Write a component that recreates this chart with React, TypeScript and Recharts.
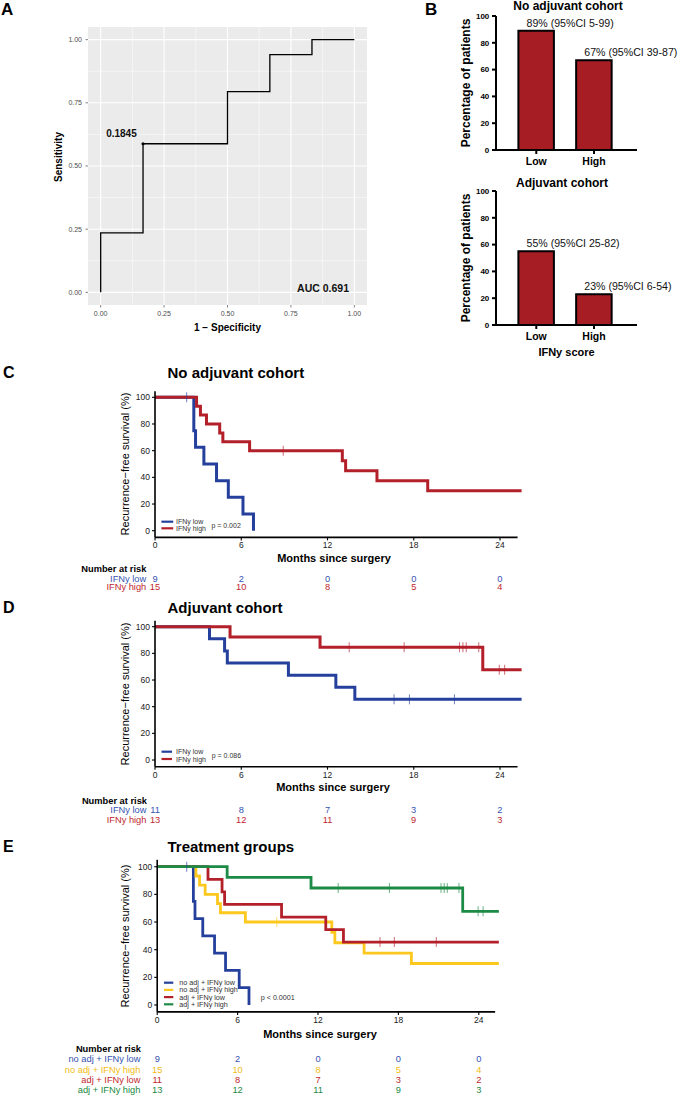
import React from 'react';
import { LineChart, Line, XAxis, YAxis, CartesianGrid, ReferenceLine, BarChart, Bar, LabelList } from 'recharts';

const FONT = '"Liberation Sans", Arial, Helvetica, sans-serif';

// ---------- Panel A: ROC ----------
const rocFpr = [0, 0, 0.167, 0.5, 0.667, 0.833, 1];
const rocTpr = [0, 0.235, 0.588, 0.794, 0.941, 1, 1];
const rocTicks = [0, 0.25, 0.5, 0.75, 1];
const rocMinorTicks = [0.125, 0.375, 0.625, 0.875];
const rocCutoffIndex = 2;
const rocCutoffLabel = '0.1845';
const rocAucLabel = 'AUC 0.691';

// ---------- Panel B: bars ----------
const scoreGroups = ['Low', 'High'];
const noAdjRecurrencePct = [89, 67];
const noAdjCiLabels = ['89% (95%CI 5-99)', '67% (95%CI 39-87)'];
const adjRecurrencePct = [55, 23];
const adjCiLabels = ['55% (95%CI 25-82)', '23% (95%CI 6-54)'];
const pctTicks = [0, 20, 40, 60, 80, 100];

// ---------- KM curves ----------
const monthTicks = [0, 6, 12, 18, 24];
const survTicks = [0, 20, 40, 60, 80, 100];
const riskTimes = [0, 6, 12, 18, 24];
const MONTH_MAX = 25.5;
const AXIS_END = 25.22;

const noAdjLowTimes = [0, 2.7, 2.82, 3.4, 4.28, 5.1, 6.12, 6.85];
const noAdjLowSurv = [100, 75, 62.5, 50, 37.5, 25, 12.5, 0];
const noAdjLowCensorTimes = [2.2];
const noAdjLowCensorSurv = [100];
const noAdjLowRisk = [9, 2, 0, 0, 0];

const noAdjHighTimes = [0, 2.89, 3.16, 3.58, 4.5, 4.72, 6.58, 13.03, 13.26, 15.44, 18.97, 25.5];
const noAdjHighSurv = [100, 93.3, 86.7, 80, 73.3, 66.7, 60, 52.5, 45, 37.5, 30, 30];
const noAdjHighCensorTimes = [8.92];
const noAdjHighCensorSurv = [60];
const noAdjHighRisk = [15, 10, 8, 5, 4];

const adjLowTimes = [0, 3.79, 4.84, 5.03, 9.28, 12.58, 13.9, 25.5];
const adjLowSurv = [100, 90.9, 81.8, 72.7, 63.6, 54.5, 45.5, 45.5];
const adjLowCensorTimes = [16.63, 17.7, 20.83];
const adjLowCensorSurv = [45.5, 45.5, 45.5];
const adjLowRisk = [11, 8, 7, 3, 2];

const adjHighTimes = [0, 5.22, 11.48, 22.8, 25.5];
const adjHighSurv = [100, 92.3, 84.6, 67.7, 67.7];
const adjHighCensorTimes = [13.51, 17.33, 21.18, 21.42, 21.65, 22.52, 23.95, 24.32];
const adjHighCensorSurv = [84.6, 84.6, 84.6, 84.6, 84.6, 84.6, 67.7, 67.7];
const adjHighRisk = [13, 12, 11, 9, 3];

const BLUE = '#24409c';
const RED = '#b3202a';
const YELLOW = '#fcc81e';
const GREEN = '#1d8b45';
const BLUE_T = '#3553b0';
const RED_T = '#c0272d';
const YELLOW_T = '#f2bc16';
const GREEN_T = '#22883f';
const BAR_RED = '#a61e23';

type KMSeries = {
  name: string;
  times: number[];
  surv: number[];
  censorTimes: number[];
  censorSurv: number[];
  risk: number[];
  color: string;
  textColor: string;
};

const noAdjLow = { times: noAdjLowTimes, surv: noAdjLowSurv, censorTimes: noAdjLowCensorTimes, censorSurv: noAdjLowCensorSurv, risk: noAdjLowRisk };
const noAdjHigh = { times: noAdjHighTimes, surv: noAdjHighSurv, censorTimes: noAdjHighCensorTimes, censorSurv: noAdjHighCensorSurv, risk: noAdjHighRisk };
const adjLow = { times: adjLowTimes, surv: adjLowSurv, censorTimes: adjLowCensorTimes, censorSurv: adjLowCensorSurv, risk: adjLowRisk };
const adjHigh = { times: adjHighTimes, surv: adjHighSurv, censorTimes: adjHighCensorTimes, censorSurv: adjHighCensorSurv, risk: adjHighRisk };

const seriesC: KMSeries[] = [
  { name: 'IFNy low', ...noAdjLow, color: BLUE, textColor: BLUE_T },
  { name: 'IFNy high', ...noAdjHigh, color: RED, textColor: RED_T },
];
const seriesD: KMSeries[] = [
  { name: 'IFNy low', ...adjLow, color: BLUE, textColor: BLUE_T },
  { name: 'IFNy high', ...adjHigh, color: RED, textColor: RED_T },
];
const seriesE: KMSeries[] = [
  { name: 'no adj + IFNy low', ...noAdjLow, color: BLUE, textColor: BLUE_T },
  { name: 'no adj + IFNy high', ...noAdjHigh, color: YELLOW, textColor: YELLOW_T },
  { name: 'adj + IFNy low', ...adjLow, color: RED, textColor: RED_T },
  { name: 'adj + IFNy high', ...adjHigh, color: GREEN, textColor: GREEN_T },
];

const zip = (t: number[], s: number[]) => t.map((v, i) => ({ t: v, s: s[i] }));

function KMChart(props: {
  left: number; top: number; yAxisWidth: number; plotTop: number; plotHeight: number; plotWidth: number;
  yDomain: [number, number]; series: KMSeries[]; lineWidth: number;
}) {
  const { left, top, yAxisWidth, plotTop, plotHeight, plotWidth, yDomain, series, lineWidth } = props;
  const width = yAxisWidth + plotWidth + 10;
  const height = plotTop + plotHeight + 22;
  return (
    <div style={{ position: 'absolute', left, top }}>
      <LineChart width={width} height={height} margin={{ top: plotTop, right: 10, bottom: 0, left: 0 }}>
        <XAxis type="number" dataKey="t" domain={[0, MONTH_MAX]} ticks={monthTicks} interval={0} height={22}
          axisLine={false} tickLine={{ stroke: '#000', strokeWidth: 1.1 }} tickSize={3} tickMargin={2}
          tick={{ fontSize: 8.5, fill: '#1a1a1a' }} />
        <YAxis type="number" dataKey="s" domain={yDomain} ticks={survTicks} interval={0} width={yAxisWidth}
          axisLine={{ stroke: '#000', strokeWidth: 1.6 }} tickLine={{ stroke: '#000', strokeWidth: 1.1 }} tickSize={3} tickMargin={2}
          tick={{ fontSize: 8.5, fill: '#1a1a1a' }} />
        <ReferenceLine segment={[{ x: 0, y: yDomain[0] }, { x: AXIS_END, y: yDomain[0] }]} stroke="#000" strokeWidth={1.6} ifOverflow="visible" />
        {series.map((sr) => (
          <Line key={sr.name} data={zip(sr.times, sr.surv)} dataKey="s" type="stepAfter" stroke={sr.color}
            strokeWidth={lineWidth} dot={false} activeDot={false} isAnimationActive={false} legendType="none" />
        ))}
        {series.map((sr) => (
          <Line key={sr.name + '-c'} data={zip(sr.censorTimes, sr.censorSurv)} dataKey="s" stroke="none"
            activeDot={false} isAnimationActive={false} legendType="none"
            dot={(p: any) => (
              <line key={`c-${sr.name}-${p.index}`} x1={p.cx} x2={p.cx} y1={p.cy - 5} y2={p.cy + 5}
                stroke={sr.color} strokeOpacity={0.6} strokeWidth={1.1} />
            )} />
        ))}
      </LineChart>
    </div>
  );
}

function RiskTable(props: {
  left: number; top: number; yAxisWidth: number; plotTop: number; rowPitch: number; plotWidth: number;
  rows: KMSeries[]; labelGap: number; fontSize: number;
}) {
  const { left, top, yAxisWidth, plotTop, rowPitch, plotWidth, rows, labelGap, fontSize } = props;
  const n = rows.length;
  const plotHeight = rowPitch * n;
  const width = yAxisWidth + plotWidth + 10;
  const height = plotTop + plotHeight + 4;
  return (
    <div style={{ position: 'absolute', left, top }}>
      <LineChart width={width} height={height} margin={{ top: plotTop, right: 10, bottom: 4, left: 0 }}>
        <XAxis type="number" dataKey="t" domain={[0, MONTH_MAX]} hide height={0} />
        <YAxis type="number" dataKey="r" domain={[-0.5, n - 0.5]} reversed ticks={rows.map((_, i) => i)} interval={0}
          width={yAxisWidth} axisLine={false} tickLine={false} tickSize={0} tickMargin={labelGap}
          tick={(p: any) => (
            <text key={`rl-${p.payload.value}`} x={p.x} y={p.y} dy="0.35em" textAnchor="end" fontSize={fontSize}
              fill={rows[p.payload.value].textColor}>{rows[p.payload.value].name}</text>
          )} />
        {rows.map((row, i) => (
          <Line key={row.name} data={riskTimes.map((t, j) => ({ t, r: i, n: row.risk[j] }))} dataKey="r" stroke="none"
            activeDot={false} isAnimationActive={false} legendType="none"
            dot={(p: any) => (
              <text key={`n-${i}-${p.index}`} x={p.cx} y={p.cy} dy="0.35em" textAnchor="middle" fontSize={fontSize}
                fill={row.textColor}>{p.payload.n}</text>
            )} />
        ))}
      </LineChart>
    </div>
  );
}

const renderCi = (p: any) => (
  <text x={p.x + p.width / 2 - 9.6} y={p.y - 4} fontSize={10.6} fill="#111">{p.value}</text>
);

function PctBarChart({ top, values, ciLabels }: { top: number; values: number[]; ciLabels: string[] }) {
  const data = scoreGroups.map((g, i) => ({ g, v: values[i], ci: ciLabels[i] }));
  return (
    <div style={{ position: 'absolute', left: 440, top }}>
      <BarChart width={240} height={175} data={data} margin={{ top: 16, right: 43, bottom: 0, left: 0 }} barSize={35.5}>
        <XAxis dataKey="g" type="category" height={25} padding={{ left: 11.4, right: 14.1 }}
          axisLine={{ stroke: '#000', strokeWidth: 2 }} tickLine={{ stroke: '#000', strokeWidth: 2 }} tickSize={4} tickMargin={4}
          tick={{ fontSize: 10.5, fontWeight: 700, fill: '#000' }} interval={0} />
        <YAxis type="number" domain={[0, 100]} ticks={pctTicks} interval={0} width={56}
          axisLine={{ stroke: '#000', strokeWidth: 2 }} tickLine={{ stroke: '#000', strokeWidth: 2 }} tickSize={4} tickMargin={2.7}
          tick={{ fontSize: 8, fontWeight: 700, fill: '#000' }} />
        <Bar dataKey="v" fill={BAR_RED} stroke="#000" strokeWidth={2} isAnimationActive={false}>
          <LabelList dataKey="ci" content={renderCi} />
        </Bar>
      </BarChart>
    </div>
  );
}

function Legend({ series, x1, x2, tx, y0, dy, fs }: { series: KMSeries[]; x1: number; x2: number; tx: number; y0: number; dy: number; fs: number }) {
  return (
    <g>
      {series.map((sr, i) => (
        <g key={sr.name}>
          <line x1={x1} x2={x2} y1={y0 + i * dy} y2={y0 + i * dy} stroke={sr.color} strokeWidth={2.2} />
          <text x={tx} y={y0 + i * dy} dominantBaseline="central" fontSize={fs} fill="#333">{sr.name}</text>
        </g>
      ))}
    </g>
  );
}

const kmYTitle = 'Recurrence\u2212free survival (%)';

export default function App() {
  const rocData = rocFpr.map((x, i) => ({ x, y: rocTpr[i] }));
  const rocTickFmt = (v: number) => v.toFixed(2);
  return (
    <div style={{ position: 'absolute', left: 0, top: 0, width: 680, height: 1096, background: '#fff', fontFamily: FONT, overflow: 'hidden' }}>
      {/* Panel A */}
      <div style={{ position: 'absolute', left: 0, top: 0 }}>
        <LineChart width={380} height={330} margin={{ top: 27, right: 13, bottom: 0, left: 0 }}>
          <CartesianGrid fill="#ebebeb" stroke="#ffffff" strokeWidth={1.1} horizontalValues={rocTicks} verticalValues={rocTicks} />
          <CartesianGrid stroke="#ffffff" strokeWidth={0.5} horizontalValues={rocMinorTicks} verticalValues={rocMinorTicks} />
          <XAxis type="number" dataKey="x" domain={[-0.05, 1.05]} ticks={rocTicks} interval={0} height={25}
            axisLine={false} tickLine={{ stroke: '#333', strokeWidth: 0.6 }} tickSize={2.5} tickMargin={4}
            tick={{ fontSize: 7, fill: '#4d4d4d' }} tickFormatter={rocTickFmt} />
          <YAxis type="number" dataKey="y" domain={[-0.05, 1.05]} ticks={rocTicks} interval={0} width={88}
            axisLine={false} tickLine={{ stroke: '#333', strokeWidth: 0.6 }} tickSize={2.5} tickMargin={3.5}
            tick={{ fontSize: 7, fill: '#4d4d4d' }} tickFormatter={rocTickFmt} />
          <Line data={rocData} dataKey="y" type="stepAfter" stroke="#000" strokeWidth={1.3} dot={false}
            activeDot={false} isAnimationActive={false} />
          <Line data={[rocData[rocCutoffIndex]]} dataKey="y" stroke="none" activeDot={false} isAnimationActive={false}
            dot={(p: any) => (
              <g key="cutoff">
                <circle cx={p.cx} cy={p.cy} r={1.6} fill="#000" />
                <text x={p.cx - 6.3} y={p.cy - 7} textAnchor="end" fontSize={10} fontWeight={700} fill="#111">{rocCutoffLabel}</text>
              </g>
            )} />
        </LineChart>
      </div>

      {/* Panel B */}
      <PctBarChart top={0} values={noAdjRecurrencePct} ciLabels={noAdjCiLabels} />
      <PctBarChart top={175} values={adjRecurrencePct} ciLabels={adjCiLabels} />

      {/* Panel C */}
      <KMChart left={100} top={380} yAxisWidth={55} plotTop={11.3} plotHeight={146.1} plotWidth={366.6}
        yDomain={[-5, 104.5]} series={seriesC} lineWidth={3} />
      <RiskTable left={0} top={570} yAxisWidth={155} plotTop={3.95} rowPitch={8.7} plotWidth={366.6}
        rows={seriesC} labelGap={8.8} fontSize={9.3} />

      {/* Panel D */}
      <KMChart left={100} top={610} yAxisWidth={55} plotTop={10.7} plotHeight={146} plotWidth={366.6}
        yDomain={[-5, 104.5]} series={seriesD} lineWidth={3} />
      <RiskTable left={0} top={800} yAxisWidth={155} plotTop={5.35} rowPitch={9.3} plotWidth={366.6}
        rows={seriesD} labelGap={8.6} fontSize={9.3} />

      {/* Panel E */}
      <KMChart left={100} top={850} yAxisWidth={57.2} plotTop={9.8} plotHeight={152.1} plotWidth={341.7}
        yDomain={[-5, 105]} series={seriesE} lineWidth={2.8} />
      <RiskTable left={0} top={1050} yAxisWidth={157.2} plotTop={3.8} rowPitch={10.33} plotWidth={341.7}
        rows={seriesE} labelGap={16.8} fontSize={9.3} />

      {/* Text overlay */}
      <svg style={{ position: 'absolute', left: 0, top: 0, pointerEvents: 'none' }} width={680} height={1096}>
        <g fontFamily={FONT}>
          {/* A */}
          <text x={1} y={15} fontSize={17} fontWeight={700}>A</text>
          <text x={58.3} y={157} fontSize={10} fontWeight={700} textAnchor="middle" dominantBaseline="central"
            transform="rotate(-90 58.3 157)">Sensitivity</text>
          <text x={227.5} y={327} fontSize={10} fontWeight={700} textAnchor="middle" dominantBaseline="central">1 − Specificity</text>
          <text x={349} y={292} fontSize={10.5} fontWeight={700} textAnchor="end" fill="#111">{rocAucLabel}</text>

          {/* B */}
          <text x={425} y={14.5} fontSize={17} fontWeight={700}>B</text>
          <text x={568} y={6} fontSize={12} fontWeight={700} textAnchor="middle" dominantBaseline="central">No adjuvant cohort</text>
          <text x={562} y={183} fontSize={12} fontWeight={700} textAnchor="middle" dominantBaseline="central">Adjuvant cohort</text>
          <text x={466} y={83} fontSize={12} fontWeight={700} textAnchor="middle" dominantBaseline="central"
            transform="rotate(-90 466 83)">Percentage of patients</text>
          <text x={466} y={258} fontSize={12} fontWeight={700} textAnchor="middle" dominantBaseline="central"
            transform="rotate(-90 466 258)">Percentage of patients</text>
          <text x={566.5} y={352} fontSize={11} fontWeight={700} textAnchor="middle" dominantBaseline="central">IFNy score</text>

          {/* C */}
          <text x={3} y={378} fontSize={16} fontWeight={700}>C</text>
          <text x={167.5} y={372} fontSize={15} fontWeight={700} dominantBaseline="central">No adjuvant cohort</text>
          <text x={125.4} y={464} fontSize={11} textAnchor="middle" dominantBaseline="central"
            transform="rotate(-90 125.4 464)">{kmYTitle}</text>
          <text x={334} y={557.7} fontSize={11} fontWeight={700} textAnchor="middle" dominantBaseline="central">Months since surgery</text>
          <text x={146.4} y={569.3} fontSize={9.3} fontWeight={700} textAnchor="end" dominantBaseline="central">Number at risk</text>
          <Legend series={seriesC} x1={161.4} x2={173.2} tx={176} y0={521.7} dy={6.6} fs={7} />
          <text x={211.4} y={525.7} fontSize={7} fill="#333" dominantBaseline="central">p = 0.002</text>

          {/* D */}
          <text x={3} y={613} fontSize={16} fontWeight={700}>D</text>
          <text x={167.5} y={607} fontSize={15} fontWeight={700} dominantBaseline="central">Adjuvant cohort</text>
          <text x={125.4} y={694} fontSize={11} textAnchor="middle" dominantBaseline="central"
            transform="rotate(-90 125.4 694)">{kmYTitle}</text>
          <text x={333} y={786.7} fontSize={11} fontWeight={700} textAnchor="middle" dominantBaseline="central">Months since surgery</text>
          <text x={147} y={800.7} fontSize={9.3} fontWeight={700} textAnchor="end" dominantBaseline="central">Number at risk</text>
          <Legend series={seriesD} x1={161.5} x2={172} tx={176} y0={751.7} dy={7.3} fs={7} />
          <text x={211.7} y={755} fontSize={7} fill="#333" dominantBaseline="central">p = 0.086</text>

          {/* E */}
          <text x={3} y={852} fontSize={16} fontWeight={700}>E</text>
          <text x={167.5} y={846} fontSize={15} fontWeight={700} dominantBaseline="central">Treatment groups</text>
          <text x={125.4} y={936} fontSize={11} textAnchor="middle" dominantBaseline="central"
            transform="rotate(-90 125.4 936)">{kmYTitle}</text>
          <text x={320} y={1034} fontSize={11} fontWeight={700} textAnchor="middle" dominantBaseline="central">Months since surgery</text>
          <text x={141} y={1049} fontSize={9.3} fontWeight={700} textAnchor="end" dominantBaseline="central">Number at risk</text>
          <Legend series={seriesE} x1={164} x2={173.3} tx={179.3} y0={982.7} dy={7.2} fs={7.2} />
          <text x={260.7} y={997.7} fontSize={7.2} fill="#333" dominantBaseline="central">p &lt; 0.0001</text>
        </g>
      </svg>
    </div>
  );
}
